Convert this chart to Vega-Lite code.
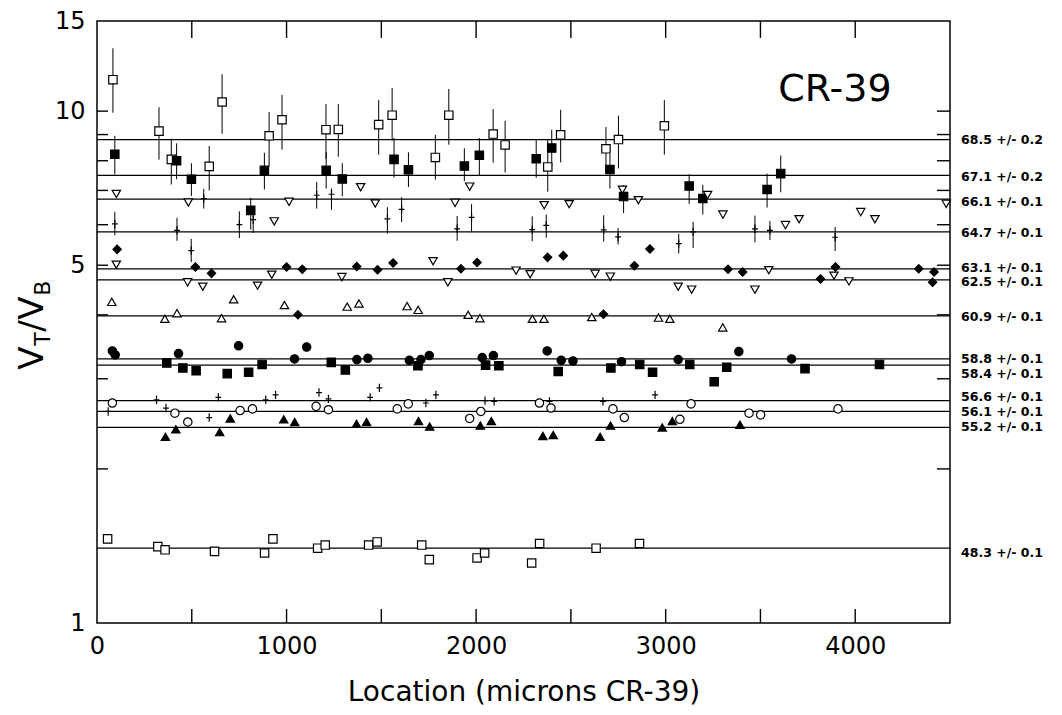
{
  "$schema": "https://vega.github.io/schema/vega-lite/v6.json",
  "width": 853,
  "height": 602,
  "autosize": {"type": "none"},
  "padding": {"left": 97, "top": 21, "right": 112, "bottom": 92},
  "background": "white",
  "config": {
    "view": {"stroke": "black", "strokeWidth": 1.5},
    "axis": {
      "domain": false, "ticks": false,
      "labelColor": "black", "titleColor": "black", "grid": false,
      "labelFont": "DejaVu Sans", "titleFont": "DejaVu Sans", "titleFontWeight": "normal"
    }
  },
  "datasets": {
    "pts": [
      {"s":"68.5","x":84,"y":11.52,"lo":9.93,"hi":13.27},
      {"s":"68.5","x":327,"y":9.14,"lo":8.04,"hi":10.18},
      {"s":"68.5","x":392,"y":8.05,"lo":7.19,"hi":8.84},
      {"s":"68.5","x":660,"y":10.42,"lo":9.03,"hi":11.81},
      {"s":"68.5","x":592,"y":7.80,"lo":7.00,"hi":8.55},
      {"s":"68.5","x":908,"y":8.95,"lo":7.79,"hi":9.96},
      {"s":"68.5","x":976,"y":9.62,"lo":8.41,"hi":10.76},
      {"s":"68.5","x":1208,"y":9.20,"lo":8.07,"hi":10.32},
      {"s":"68.5","x":1273,"y":9.21,"lo":8.15,"hi":10.33},
      {"s":"68.5","x":1486,"y":9.41,"lo":8.22,"hi":10.51},
      {"s":"68.5","x":1557,"y":9.82,"lo":8.76,"hi":11.10},
      {"s":"68.5","x":1785,"y":8.12,"lo":7.35,"hi":8.99},
      {"s":"68.5","x":1856,"y":9.82,"lo":8.60,"hi":11.05},
      {"s":"68.5","x":2090,"y":9.02,"lo":7.93,"hi":10.09},
      {"s":"68.5","x":2153,"y":8.59,"lo":7.59,"hi":9.58},
      {"s":"68.5","x":2378,"y":7.78,"lo":6.96,"hi":8.79},
      {"s":"68.5","x":2446,"y":8.99,"lo":7.94,"hi":10.06},
      {"s":"68.5","x":2685,"y":8.44,"lo":7.65,"hi":9.31},
      {"s":"68.5","x":2751,"y":8.80,"lo":7.73,"hi":9.80},
      {"s":"68.5","x":2993,"y":9.36,"lo":8.22,"hi":10.51},
      {"s":"67.1","x":94,"y":8.24,"lo":7.52,"hi":8.95},
      {"s":"67.1","x":420,"y":8.00,"lo":7.36,"hi":8.65},
      {"s":"67.1","x":498,"y":7.36,"lo":6.83,"hi":7.91},
      {"s":"67.1","x":883,"y":7.66,"lo":7.03,"hi":8.29},
      {"s":"67.1","x":1209,"y":7.66,"lo":7.06,"hi":8.33},
      {"s":"67.1","x":1294,"y":7.37,"lo":6.82,"hi":7.91},
      {"s":"67.1","x":811,"y":6.40,"lo":5.87,"hi":6.77},
      {"s":"67.1","x":1567,"y":8.05,"lo":7.42,"hi":8.87},
      {"s":"67.1","x":1643,"y":7.68,"lo":7.11,"hi":8.31},
      {"s":"67.1","x":1938,"y":7.81,"lo":7.30,"hi":8.46},
      {"s":"67.1","x":2017,"y":8.20,"lo":7.47,"hi":8.86},
      {"s":"67.1","x":2317,"y":8.07,"lo":7.41,"hi":8.78},
      {"s":"67.1","x":2399,"y":8.47,"lo":7.79,"hi":9.20},
      {"s":"67.1","x":2706,"y":7.69,"lo":7.06,"hi":8.26},
      {"s":"67.1","x":2778,"y":6.81,"lo":6.32,"hi":7.17},
      {"s":"67.1","x":3124,"y":7.14,"lo":6.59,"hi":7.53},
      {"s":"67.1","x":3196,"y":6.75,"lo":6.28,"hi":7.18},
      {"s":"67.1","x":3535,"y":7.03,"lo":6.48,"hi":7.55},
      {"s":"67.1","x":3607,"y":7.55,"lo":6.94,"hi":8.19},
      {"s":"66.1","x":102,"y":6.89},
      {"s":"66.1","x":482,"y":6.63},
      {"s":"66.1","x":1013,"y":6.65},
      {"s":"66.1","x":1391,"y":7.10},
      {"s":"66.1","x":1468,"y":6.60},
      {"s":"66.1","x":935,"y":6.09},
      {"s":"66.1","x":1889,"y":6.62},
      {"s":"66.1","x":1966,"y":7.12},
      {"s":"66.1","x":2359,"y":6.55},
      {"s":"66.1","x":2491,"y":6.58},
      {"s":"66.1","x":2772,"y":7.02},
      {"s":"66.1","x":2856,"y":6.70},
      {"s":"66.1","x":3221,"y":6.86},
      {"s":"66.1","x":3302,"y":6.28},
      {"s":"66.1","x":3632,"y":5.99},
      {"s":"66.1","x":3704,"y":6.15},
      {"s":"66.1","x":4029,"y":6.35},
      {"s":"66.1","x":4104,"y":6.15},
      {"s":"66.1","x":4480,"y":6.59},
      {"s":"64.7","x":94,"y":6.02,"lo":5.72,"hi":6.35},
      {"s":"64.7","x":422,"y":5.85,"lo":5.58,"hi":6.19},
      {"s":"64.7","x":751,"y":6.00,"lo":5.65,"hi":6.37},
      {"s":"64.7","x":824,"y":6.14,"lo":5.78,"hi":6.51},
      {"s":"64.7","x":497,"y":5.34,"lo":5.07,"hi":5.63},
      {"s":"64.7","x":1159,"y":6.85,"lo":6.45,"hi":7.27},
      {"s":"64.7","x":1237,"y":6.88,"lo":6.41,"hi":7.06},
      {"s":"64.7","x":563,"y":6.75,"lo":6.45,"hi":7.05},
      {"s":"64.7","x":1532,"y":6.16,"lo":5.76,"hi":6.49},
      {"s":"64.7","x":1607,"y":6.43,"lo":6.07,"hi":6.79},
      {"s":"64.7","x":1900,"y":5.89,"lo":5.58,"hi":6.24},
      {"s":"64.7","x":1976,"y":6.20,"lo":5.80,"hi":6.58},
      {"s":"64.7","x":2296,"y":5.87,"lo":5.57,"hi":6.23},
      {"s":"64.7","x":2370,"y":5.98,"lo":5.66,"hi":6.28},
      {"s":"64.7","x":2673,"y":5.86,"lo":5.56,"hi":6.26},
      {"s":"64.7","x":2749,"y":5.68,"lo":5.49,"hi":5.91},
      {"s":"64.7","x":3069,"y":5.51,"lo":5.27,"hi":5.76},
      {"s":"64.7","x":3145,"y":5.81,"lo":5.40,"hi":6.08},
      {"s":"64.7","x":3471,"y":5.89,"lo":5.54,"hi":6.25},
      {"s":"64.7","x":3550,"y":5.85,"lo":5.60,"hi":6.10},
      {"s":"64.7","x":3894,"y":5.67,"lo":5.33,"hi":5.94},
      {"s":"63.1","x":106,"y":5.37},
      {"s":"63.1","x":519,"y":4.96},
      {"s":"63.1","x":604,"y":4.82},
      {"s":"63.1","x":1000,"y":4.96},
      {"s":"63.1","x":1083,"y":4.91},
      {"s":"63.1","x":1370,"y":4.97},
      {"s":"63.1","x":1480,"y":4.90},
      {"s":"63.1","x":1562,"y":5.05},
      {"s":"63.1","x":1920,"y":4.92},
      {"s":"63.1","x":2005,"y":5.06},
      {"s":"63.1","x":2377,"y":5.18},
      {"s":"63.1","x":2460,"y":5.22},
      {"s":"63.1","x":2835,"y":4.99},
      {"s":"63.1","x":2917,"y":5.38},
      {"s":"63.1","x":3329,"y":4.91},
      {"s":"63.1","x":3406,"y":4.85},
      {"s":"63.1","x":3896,"y":4.96},
      {"s":"63.1","x":4335,"y":4.92},
      {"s":"63.1","x":4416,"y":4.85},
      {"s":"63.1","x":3817,"y":4.70},
      {"s":"63.1","x":4408,"y":4.63},
      {"s":"63.1","x":1060,"y":4.00},
      {"s":"63.1","x":2672,"y":4.01},
      {"s":"62.5","x":102,"y":5.01},
      {"s":"62.5","x":478,"y":4.63},
      {"s":"62.5","x":558,"y":4.54},
      {"s":"62.5","x":847,"y":4.56},
      {"s":"62.5","x":922,"y":4.79},
      {"s":"62.5","x":1292,"y":4.74},
      {"s":"62.5","x":1773,"y":5.09},
      {"s":"62.5","x":1851,"y":4.63},
      {"s":"62.5","x":2211,"y":4.88},
      {"s":"62.5","x":2285,"y":4.80},
      {"s":"62.5","x":2628,"y":4.81},
      {"s":"62.5","x":2708,"y":4.75},
      {"s":"62.5","x":3066,"y":4.54},
      {"s":"62.5","x":3137,"y":4.48},
      {"s":"62.5","x":3544,"y":4.89},
      {"s":"62.5","x":3471,"y":4.48},
      {"s":"62.5","x":3888,"y":4.77},
      {"s":"62.5","x":3967,"y":4.65},
      {"s":"60.9","x":78,"y":4.24},
      {"s":"60.9","x":358,"y":3.93},
      {"s":"60.9","x":422,"y":4.03},
      {"s":"60.9","x":657,"y":3.94},
      {"s":"60.9","x":721,"y":4.29},
      {"s":"60.9","x":989,"y":4.18},
      {"s":"60.9","x":1320,"y":4.15},
      {"s":"60.9","x":1382,"y":4.21},
      {"s":"60.9","x":1636,"y":4.16},
      {"s":"60.9","x":1694,"y":4.09},
      {"s":"60.9","x":1958,"y":4.00},
      {"s":"60.9","x":2020,"y":3.94},
      {"s":"60.9","x":2297,"y":3.93},
      {"s":"60.9","x":2358,"y":3.93},
      {"s":"60.9","x":2610,"y":3.96},
      {"s":"60.9","x":2962,"y":3.95},
      {"s":"60.9","x":3022,"y":3.93},
      {"s":"60.9","x":3301,"y":3.78},
      {"s":"58.8","x":81,"y":3.40},
      {"s":"58.8","x":96,"y":3.34},
      {"s":"58.8","x":430,"y":3.36},
      {"s":"58.8","x":747,"y":3.48},
      {"s":"58.8","x":1042,"y":3.28},
      {"s":"58.8","x":1106,"y":3.46},
      {"s":"58.8","x":1371,"y":3.27},
      {"s":"58.8","x":1429,"y":3.29},
      {"s":"58.8","x":1648,"y":3.26},
      {"s":"58.8","x":1753,"y":3.33},
      {"s":"58.8","x":1709,"y":3.27},
      {"s":"58.8","x":2032,"y":3.30},
      {"s":"58.8","x":2091,"y":3.33},
      {"s":"58.8","x":2375,"y":3.40},
      {"s":"58.8","x":2449,"y":3.26},
      {"s":"58.8","x":2511,"y":3.25},
      {"s":"58.8","x":2767,"y":3.24},
      {"s":"58.8","x":3066,"y":3.27},
      {"s":"58.8","x":3386,"y":3.39},
      {"s":"58.8","x":3664,"y":3.28},
      {"s":"58.4","x":368,"y":3.22},
      {"s":"58.4","x":453,"y":3.15},
      {"s":"58.4","x":523,"y":3.11},
      {"s":"58.4","x":687,"y":3.07},
      {"s":"58.4","x":800,"y":3.09},
      {"s":"58.4","x":871,"y":3.20},
      {"s":"58.4","x":1236,"y":3.23},
      {"s":"58.4","x":1310,"y":3.12},
      {"s":"58.4","x":1693,"y":3.18},
      {"s":"58.4","x":2050,"y":3.19},
      {"s":"58.4","x":2120,"y":3.18},
      {"s":"58.4","x":2433,"y":3.10},
      {"s":"58.4","x":2711,"y":3.15},
      {"s":"58.4","x":2863,"y":3.20},
      {"s":"58.4","x":2931,"y":3.09},
      {"s":"58.4","x":3127,"y":3.20},
      {"s":"58.4","x":3322,"y":3.16},
      {"s":"58.4","x":3256,"y":2.96},
      {"s":"58.4","x":3735,"y":3.14},
      {"s":"58.4","x":4128,"y":3.20},
      {"s":"56.6","x":314,"y":2.73},
      {"s":"56.6","x":364,"y":2.63},
      {"s":"56.6","x":640,"y":2.76},
      {"s":"56.6","x":592,"y":2.52},
      {"s":"56.6","x":890,"y":2.73},
      {"s":"56.6","x":942,"y":2.79},
      {"s":"56.6","x":1171,"y":2.82},
      {"s":"56.6","x":1221,"y":2.74},
      {"s":"56.6","x":1441,"y":2.76},
      {"s":"56.6","x":1490,"y":2.88},
      {"s":"56.6","x":59,"y":2.59},
      {"s":"56.6","x":1735,"y":2.69},
      {"s":"56.6","x":1788,"y":2.79},
      {"s":"56.6","x":2047,"y":2.72},
      {"s":"56.6","x":2095,"y":2.71},
      {"s":"56.6","x":2387,"y":2.71},
      {"s":"56.6","x":2669,"y":2.71},
      {"s":"56.6","x":2944,"y":2.79},
      {"s":"56.1","x":81,"y":2.69},
      {"s":"56.1","x":411,"y":2.57},
      {"s":"56.1","x":479,"y":2.47},
      {"s":"56.1","x":755,"y":2.60},
      {"s":"56.1","x":820,"y":2.62},
      {"s":"56.1","x":1156,"y":2.65},
      {"s":"56.1","x":1221,"y":2.61},
      {"s":"56.1","x":1584,"y":2.62},
      {"s":"56.1","x":1642,"y":2.68},
      {"s":"56.1","x":1966,"y":2.51},
      {"s":"56.1","x":2025,"y":2.59},
      {"s":"56.1","x":2334,"y":2.69},
      {"s":"56.1","x":2395,"y":2.63},
      {"s":"56.1","x":2722,"y":2.62},
      {"s":"56.1","x":2782,"y":2.52},
      {"s":"56.1","x":3134,"y":2.68},
      {"s":"56.1","x":3075,"y":2.50},
      {"s":"56.1","x":3440,"y":2.57},
      {"s":"56.1","x":3501,"y":2.55},
      {"s":"56.1","x":3909,"y":2.62},
      {"s":"55.2","x":361,"y":2.31},
      {"s":"55.2","x":416,"y":2.39},
      {"s":"55.2","x":647,"y":2.36},
      {"s":"55.2","x":703,"y":2.51},
      {"s":"55.2","x":985,"y":2.50},
      {"s":"55.2","x":1043,"y":2.47},
      {"s":"55.2","x":1369,"y":2.45},
      {"s":"55.2","x":1422,"y":2.47},
      {"s":"55.2","x":1696,"y":2.48},
      {"s":"55.2","x":1755,"y":2.42},
      {"s":"55.2","x":2022,"y":2.43},
      {"s":"55.2","x":2080,"y":2.48},
      {"s":"55.2","x":2352,"y":2.32},
      {"s":"55.2","x":2407,"y":2.33},
      {"s":"55.2","x":2654,"y":2.31},
      {"s":"55.2","x":2709,"y":2.43},
      {"s":"55.2","x":2982,"y":2.41},
      {"s":"55.2","x":3035,"y":2.48},
      {"s":"55.2","x":3392,"y":2.44},
      {"s":"48.3","x":56,"y":1.46},
      {"s":"48.3","x":321,"y":1.41},
      {"s":"48.3","x":359,"y":1.39},
      {"s":"48.3","x":620,"y":1.38},
      {"s":"48.3","x":884,"y":1.37},
      {"s":"48.3","x":928,"y":1.46},
      {"s":"48.3","x":1164,"y":1.40},
      {"s":"48.3","x":1204,"y":1.42},
      {"s":"48.3","x":1433,"y":1.42},
      {"s":"48.3","x":1478,"y":1.44},
      {"s":"48.3","x":1713,"y":1.42},
      {"s":"48.3","x":1753,"y":1.33},
      {"s":"48.3","x":2005,"y":1.34},
      {"s":"48.3","x":2045,"y":1.37},
      {"s":"48.3","x":2293,"y":1.31},
      {"s":"48.3","x":2335,"y":1.43},
      {"s":"48.3","x":2633,"y":1.40},
      {"s":"48.3","x":2862,"y":1.43}
    ],
    "fits": [
      {"lab":"68.5 +/- 0.2","fit":8.80,"ly":8.80},
      {"lab":"67.1 +/- 0.2","fit":7.49,"ly":7.42},
      {"lab":"66.1 +/- 0.1","fit":6.73,"ly":6.64},
      {"lab":"64.7 +/- 0.1","fit":5.81,"ly":5.78},
      {"lab":"63.1 +/- 0.1","fit":4.92,"ly":4.94},
      {"lab":"62.5 +/- 0.1","fit":4.68,"ly":4.63},
      {"lab":"60.9 +/- 0.1","fit":3.98,"ly":3.97},
      {"lab":"58.8 +/- 0.1","fit":3.28,"ly":3.28},
      {"lab":"58.4 +/- 0.1","fit":3.19,"ly":3.06},
      {"lab":"56.6 +/- 0.1","fit":2.72,"ly":2.76},
      {"lab":"56.1 +/- 0.1","fit":2.59,"ly":2.58},
      {"lab":"55.2 +/- 0.1","fit":2.41,"ly":2.42},
      {"lab":"48.3 +/- 0.1","fit":1.40,"ly":1.37}
    ],
    "yticks": [{"v":2},{"v":3},{"v":4},{"v":5},{"v":6},{"v":7},{"v":8},{"v":9},{"v":10}],
    "xticks": [{"v":500},{"v":1000},{"v":1500},{"v":2000},{"v":2500},{"v":3000},{"v":3500},{"v":4000}],
    "one": [{}]
  },
  "layer": [
    {
      "data": {"name": "fits"},
      "mark": {"type": "rule", "color": "black", "strokeWidth": 1.3},
      "encoding": {
        "y": {"field": "fit", "type": "quantitative",
          "scale": {"type": "log", "domain": [1, 15], "nice": false},
          "axis": {"orient": "left", "values": [1,5,10,15],
            "labelFontSize": 24, "labelPadding": 12, "title": null}}
      }
    },
    {
      "data": {"name": "pts"},
      "transform": [{"filter": "isValid(datum.lo)"}],
      "mark": {"type": "rule", "color": "black", "strokeWidth": 1},
      "encoding": {
        "x": {"field": "x", "type": "quantitative",
          "scale": {"domain": [0, 4500], "nice": false, "zero": false},
          "axis": {"orient": "bottom", "values": [0,1000,2000,3000,4000],
            "format": "d", "labelFontSize": 24, "labelPadding": 11, "labelFlush": false,
            "title": "Location (microns CR-39)", "titleFontSize": 28, "titlePadding": 20}},
        "y": {"field": "lo", "type": "quantitative",
          "scale": {"type": "log", "domain": [1, 15], "nice": false}, "axis": null},
        "y2": {"field": "hi"}
      }
    },
    {
      "data": {"name": "yticks"},
      "mark": {"type": "rule", "color": "black", "strokeWidth": 1.4},
      "encoding": {
        "x": {"datum": 0, "type": "quantitative", "scale": {"domain": [0, 4500], "nice": false, "zero": false}, "axis": null},
        "x2": {"datum": 58},
        "y": {"field": "v", "type": "quantitative", "scale": {"type": "log", "domain": [1, 15], "nice": false}, "axis": null}
      }
    },
    {
      "data": {"name": "yticks"},
      "mark": {"type": "rule", "color": "black", "strokeWidth": 1.4},
      "encoding": {
        "x": {"datum": 4431, "type": "quantitative", "axis": null},
        "x2": {"datum": 4500},
        "y": {"field": "v", "type": "quantitative", "axis": null}
      }
    },
    {
      "data": {"name": "xticks"},
      "mark": {"type": "rule", "color": "black", "strokeWidth": 1.4},
      "encoding": {
        "x": {"field": "v", "type": "quantitative", "axis": null},
        "y": {"datum": 1, "type": "quantitative", "axis": null},
        "y2": {"datum": 1.065}
      }
    },
    {
      "data": {"name": "xticks"},
      "mark": {"type": "rule", "color": "black", "strokeWidth": 1.4},
      "encoding": {
        "x": {"field": "v", "type": "quantitative", "axis": null},
        "y": {"datum": 13.9, "type": "quantitative", "axis": null},
        "y2": {"datum": 15}
      }
    },
    {
      "data": {"name": "pts"},
      "mark": {"type": "point", "opacity": 1, "stroke": "black", "strokeWidth": 1.2, "size": 70},
      "encoding": {
        "x": {"field": "x", "type": "quantitative", "axis": null},
        "y": {"field": "y", "type": "quantitative", "axis": null},
        "shape": {"field": "s", "type": "nominal", "legend": null,
          "scale": {"domain": ["68.5","67.1","66.1","64.7","63.1","62.5","60.9","58.8","58.4","56.6","56.1","55.2","48.3"],
            "range": ["square","square","triangle-down","M-0.7,0H0.7M0,-1V1","diamond","triangle-down","triangle-up","circle","square","M-0.7,0H0.7M0,-1V1","circle","triangle-up","square"]}},
        "fill": {"field": "s", "type": "nominal", "legend": null,
          "scale": {"domain": ["68.5","67.1","66.1","64.7","63.1","62.5","60.9","58.8","58.4","56.6","56.1","55.2","48.3"],
            "range": ["white","black","white","black","black","white","white","black","black","black","white","black","white"]}}
      }
    },
    {
      "data": {"name": "fits"},
      "mark": {"type": "text", "align": "left", "baseline": "middle", "dx": 11, "font": "DejaVu Sans", "fontWeight": "bold", "fontSize": 12.5, "color": "black"},
      "encoding": {
        "x": {"datum": 4500, "type": "quantitative", "axis": null},
        "y": {"field": "ly", "type": "quantitative", "axis": null},
        "text": {"field": "lab"}
      }
    },
    {
      "data": {"name": "one"},
      "mark": {"type": "text", "align": "center", "baseline": "middle", "font": "DejaVu Sans", "fontSize": 38, "color": "black"},
      "encoding": {
        "x": {"datum": 3893, "type": "quantitative", "axis": null},
        "y": {"datum": 11.0, "type": "quantitative", "axis": null},
        "text": {"value": "CR-39"}
      }
    },
    {
      "data": {"name": "one"},
      "mark": {"type": "text", "align": "left", "baseline": "alphabetic", "angle": 270, "dx": -55, "dy": -54, "font": "DejaVu Sans", "fontSize": 34, "color": "black"},
      "encoding": {"x": {"datum": 0, "type": "quantitative", "axis": null}, "y": {"datum": 4, "type": "quantitative", "axis": null}, "text": {"value": "V"}}
    },
    {
      "data": {"name": "one"},
      "mark": {"type": "text", "align": "left", "baseline": "alphabetic", "angle": 270, "dx": -31, "dy": -47, "font": "DejaVu Sans", "fontSize": 22, "color": "black"},
      "encoding": {"x": {"datum": 0, "type": "quantitative", "axis": null}, "y": {"datum": 4, "type": "quantitative", "axis": null}, "text": {"value": "T"}}
    },
    {
      "data": {"name": "one"},
      "mark": {"type": "text", "align": "left", "baseline": "alphabetic", "angle": 270, "dx": -17, "dy": -54, "font": "DejaVu Sans", "fontSize": 34, "color": "black"},
      "encoding": {"x": {"datum": 0, "type": "quantitative", "axis": null}, "y": {"datum": 4, "type": "quantitative", "axis": null}, "text": {"value": "/"}}
    },
    {
      "data": {"name": "one"},
      "mark": {"type": "text", "align": "left", "baseline": "alphabetic", "angle": 270, "dx": -5, "dy": -54, "font": "DejaVu Sans", "fontSize": 34, "color": "black"},
      "encoding": {"x": {"datum": 0, "type": "quantitative", "axis": null}, "y": {"datum": 4, "type": "quantitative", "axis": null}, "text": {"value": "V"}}
    },
    {
      "data": {"name": "one"},
      "mark": {"type": "text", "align": "left", "baseline": "alphabetic", "angle": 270, "dx": 19, "dy": -47, "font": "DejaVu Sans", "fontSize": 22, "color": "black"},
      "encoding": {"x": {"datum": 0, "type": "quantitative", "axis": null}, "y": {"datum": 4, "type": "quantitative", "axis": null}, "text": {"value": "B"}}
    }
  ],
  "resolve": {"axis": {"x": "independent", "y": "independent"}}
}
